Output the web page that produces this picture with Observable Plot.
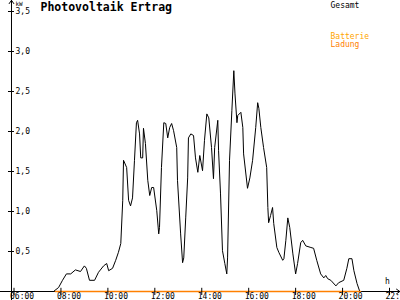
<!DOCTYPE html>
<html>
<head>
<meta charset="utf-8">
<script src="https://cdn.jsdelivr.net/npm/d3@7"></script>
<script src="https://cdn.jsdelivr.net/npm/@observablehq/plot@0.6"></script>
<style>
  body { margin: 0; background: #fff; }
  #chart { width: 400px; height: 300px; overflow: hidden; }
</style>
</head>
<body>
<div id="chart"></div>
<script>
// ---- data ----
const title = "Photovoltaik Ertrag";
const seriesNames = ["Gesamt", "Batterie", "Ladung"];
const seriesColors = ["#000000", "#ffa500", "#ff8000"];

const gesamtTimes = ["07:41","07:54","08:04","08:14","08:25","08:37","08:50","09:00","09:05","09:13","09:26","09:36","09:49","09:57","10:02","10:12","10:20","10:27","10:33","10:38","10:40","10:48","10:53","10:58","11:03","11:08","11:13","11:16","11:21","11:24","11:29","11:31","11:36","11:42","11:47","11:52","11:57","12:05","12:10","12:12","12:17","12:23","12:28","12:33","12:38","12:43","12:48","12:56","12:58","13:06","13:11","13:14","13:19","13:24","13:26","13:32","13:39","13:44","13:50","13:55","14:02","14:07","14:13","14:18","14:25","14:30","14:33","14:41","14:43","14:48","14:53","14:59","15:04","15:06","15:11","15:17","15:22","15:25","15:30","15:32","15:40","15:45","15:47","15:57","16:03","16:10","16:18","16:23","16:26","16:31","16:38","16:46","16:49","16:51","16:56","17:01","17:04","17:12","17:17","17:27","17:30","17:35","17:40","17:45","17:53","18:00","18:05","18:13","18:18","18:26","18:39","18:46","18:54","19:04","19:12","19:17","19:22","19:30","19:43","19:50","20:03","20:11","20:16","20:24","20:29","20:37","20:44"];
const gesamtKW = [0,0.05,0.14,0.22,0.22,0.27,0.25,0.32,0.29,0.14,0.14,0.24,0.32,0.35,0.26,0.29,0.39,0.49,0.60,1.14,1.64,1.55,1.14,1.07,1.17,1.64,2.11,2.14,1.97,1.67,1.67,2.04,1.85,1.39,1.20,1.30,1.30,1.01,0.72,0.80,1.55,2.11,2.10,1.92,2.05,2.10,2.01,1.80,1.39,0.72,0.36,0.42,0.92,1.42,1.92,1.97,1.95,1.67,1.49,1.70,1.51,1.89,2.22,2.17,1.80,1.41,1.80,2.14,1.76,1.22,0.51,0.35,0.22,0.42,1.64,2.26,2.76,2.47,2.11,2.20,2.24,2.05,1.72,1.29,1.42,1.64,2.05,2.36,2.29,2.05,1.80,1.55,1.05,0.86,0.95,1.05,0.85,0.55,0.49,0.39,0.41,0.64,0.92,0.80,0.47,0.22,0.35,0.61,0.64,0.57,0.55,0.54,0.39,0.22,0.17,0.20,0.16,0.14,0.07,0.11,0.14,0.29,0.41,0.41,0.26,0.10,0];

const ladungTimes = ["07:46","20:46"];
const ladungKW = [0, 0];

const xTicks = [6, 8, 10, 12, 14, 16, 18, 20, 22];
const xTickLabels = ["06:00","08:00","10:00","12:00","14:00","16:00","18:00","20:00","22:00"];
const yTicks = [0.5, 1.0, 1.5, 2.0, 2.5, 3.0, 3.5];
const yTickLabels = ["0,5","1,0","1,5","2,0","2,5","3,0","3,5"];
const yUnit = "kW";
const xUnit = "h";

// ---- build ----
const toH = s => { const [h, m] = s.split(":").map(Number); return h + m / 60; };
const gesamt = gesamtTimes.map((t, i) => ({h: toH(t), v: gesamtKW[i]}));
const ladung = ladungTimes.map((t, i) => ({h: toH(t), v: ladungKW[i]}));
const F = "DejaVu Sans Mono";

const chart = Plot.plot({
  width: 400,
  height: 300,
  marginLeft: 13.5,
  marginRight: 11,
  marginTop: 11,
  marginBottom: 9,
  x: {type: "linear", domain: [6, 22], range: [13.5, 389], axis: null},
  y: {type: "linear", domain: [0, 3.5], range: [291, 11], axis: null},
  style: {fontFamily: F, background: "#fff", overflow: "hidden"},
  marks: [
    // data line
    Plot.line(gesamt, {x: "h", y: "v", stroke: seriesColors[0], strokeWidth: 1}),
    // x axis with arrow
    Plot.arrow([0], {x1: 5.42, x2: 22.44, y1: 0, y2: 0, stroke: "#000", strokeWidth: 1, headLength: 6, headAngle: 70}),
    // y axis with arrow
    Plot.arrow([0], {x1: 5.893, x2: 5.893, y1: -0.12, y2: 3.64, stroke: "#000", strokeWidth: 1, headLength: 6, headAngle: 70}),
    // Ladung (orange) on top of baseline
    Plot.line(ladung, {x: "h", y: "v", stroke: seriesColors[2], strokeWidth: 1.6}),
    // ticks
    Plot.ruleX(xTicks, {x: d => d, y1: 0.04, y2: -0.05, stroke: "#000"}),
    Plot.ruleY(yTicks, {y: d => d, x1: 5.765, x2: 6.02, stroke: "#000"}),
    // tick labels
    Plot.text(xTicks, {x: d => d, text: (d, i) => xTickLabels[i], frameAnchor: "bottom", dy: 4.5, dx: -4, textAnchor: "start", lineAnchor: "middle", fontSize: 8, fill: "#000"}),
    Plot.text(yTicks, {y: d => d, text: (d, i) => yTickLabels[i], frameAnchor: "left", dx: 1.5, textAnchor: "start", lineAnchor: "middle", fontSize: 8, fill: "#000"}),
    // units
    Plot.text([yUnit], {frameAnchor: "top-left", dx: 1.5, dy: -7.5, textAnchor: "start", lineAnchor: "middle", fontSize: 6, fill: "#000"}),
    Plot.text([xUnit], {frameAnchor: "bottom-right", dx: -2, dy: -10, textAnchor: "middle", lineAnchor: "middle", fontSize: 8, fill: "#000"}),
    // title
    Plot.text([title], {frameAnchor: "top-left", dx: 26.5, dy: -4, textAnchor: "start", lineAnchor: "middle", fontSize: 11.5, fontWeight: "bold", fill: "#000"}),
    // legend
    Plot.text([seriesNames[0]], {frameAnchor: "top-right", dx: -59, dy: -6.5, textAnchor: "start", lineAnchor: "middle", fontSize: 8, fill: seriesColors[0]}),
    Plot.text([seriesNames[1]], {frameAnchor: "top-right", dx: -59, dy: 25, textAnchor: "start", lineAnchor: "middle", fontSize: 8, fill: seriesColors[1]}),
    Plot.text([seriesNames[2]], {frameAnchor: "top-right", dx: -59, dy: 32.5, textAnchor: "start", lineAnchor: "middle", fontSize: 8, fill: seriesColors[2]})
  ]
});
document.getElementById("chart").appendChild(chart);
</script>
</body>
</html>
